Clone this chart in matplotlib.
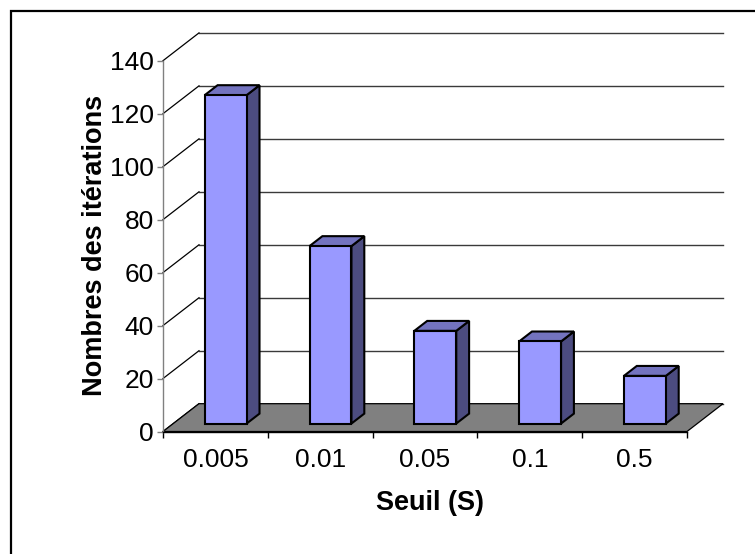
import matplotlib
matplotlib.use("Agg")
import matplotlib.pyplot as plt
from matplotlib.patches import Polygon, Rectangle

plt.rcParams["font.family"] = ["Liberation Sans", "DejaVu Sans"]

# Data
categories = ["0.005", "0.01", "0.05", "0.1", "0.5"]
iterations = [124, 67, 35, 31, 18]
y_ticks = [0, 20, 40, 60, 80, 100, 120, 140]

# Oblique projection: full depth shifts by (DX categories, DY value units)
DX, DY = 0.3435, 10.5
BAR_D0, BAR_D1 = 0.286, 0.643
BAR_HALF = 0.2

FRONT = "#9999FF"
TOP = "#7373BF"
SIDE = "#4C4C80"
FLOOR = "#808080"


def proj(x, y, d):
    return (x + DX * d, y + DY * d)


W, H = 755, 554
fig = plt.figure(figsize=(W / 100, H / 100), dpi=100)
ax = fig.add_axes([163 / W, (H - 431.5) / H, (687 - 163) / W, (431.5 - 60.7) / H])
n = len(categories)
ax.set_xlim(0, n)
ax.set_ylim(0, max(y_ticks))
ax.patch.set_visible(False)

# Back wall gridlines and left-wall diagonals
for v in y_ticks:
    xa, ya = proj(0, v, 1)
    xb, yb = proj(n, v, 1)
    ax.plot([xa, xb], [ya, yb], color="#3a3a3a", lw=1.0, clip_on=False, zorder=1)
    ax.plot([0, xa], [v, ya], color="black", lw=0.9, clip_on=False, zorder=1)

# Floor
floor = Polygon([proj(0, 0, 0), proj(n, 0, 0), proj(n, 0, 1), proj(0, 0, 1)],
                closed=True, facecolor=FLOOR, edgecolor="black", lw=0.9,
                clip_on=False, zorder=2)
ax.add_patch(floor)

# Bars
for i, v in enumerate(iterations):
    x0, x1 = i + 0.5 - BAR_HALF, i + 0.5 + BAR_HALF
    side = [proj(x1, 0, BAR_D0), proj(x1, 0, BAR_D1), proj(x1, v, BAR_D1), proj(x1, v, BAR_D0)]
    top = [proj(x0, v, BAR_D0), proj(x1, v, BAR_D0), proj(x1, v, BAR_D1), proj(x0, v, BAR_D1)]
    front = [proj(x0, 0, BAR_D0), proj(x1, 0, BAR_D0), proj(x1, v, BAR_D0), proj(x0, v, BAR_D0)]
    for pts, col in ((side, SIDE), (top, TOP), (front, FRONT)):
        ax.add_patch(Polygon(pts, closed=True, facecolor=col, edgecolor="black",
                             lw=1.5, joinstyle="miter", clip_on=False, zorder=3 + i * 0.1))

# Axes styling
for s in ("top", "right"):
    ax.spines[s].set_visible(False)
ax.spines["left"].set_color("#808080")
ax.spines["left"].set_linewidth(1.0)
ax.spines["bottom"].set_color("black")
ax.spines["bottom"].set_linewidth(1.0)
ax.spines["left"].set_zorder(4)
ax.spines["bottom"].set_zorder(4)

ax.set_yticks(y_ticks)
ax.tick_params(axis="y", direction="out", length=4.5, width=1.0, color="#808080",
               labelsize=19, pad=2)
ax.set_xticks(range(n + 1))
ax.set_xticklabels([])
ax.set_xticks([i + 0.5 for i in range(n)], minor=True)
ax.set_xticklabels(categories, minor=True)
ax.tick_params(axis="x", which="major", direction="out", length=4.5, width=1.0, color="black")
ax.tick_params(axis="x", which="minor", length=0, labelsize=19, pad=12)

fig.text(95 / W, 1 - 245 / H, "Nombres des itérations", rotation=90, fontsize=19.5,
         fontweight="bold", ha="center", va="center")
fig.text(430 / W, 1 - 503 / H, "Seuil (S)", fontsize=19.5, fontweight="bold",
         ha="center", va="center")

# Frame around the chart area
fig.add_artist(Rectangle((10.5 / W, -0.1), 1.2, (H - 10.5) / H + 0.1,
                         transform=fig.transFigure, fill=False, edgecolor="black", lw=1.6))

fig.savefig("out.png", dpi=100)
